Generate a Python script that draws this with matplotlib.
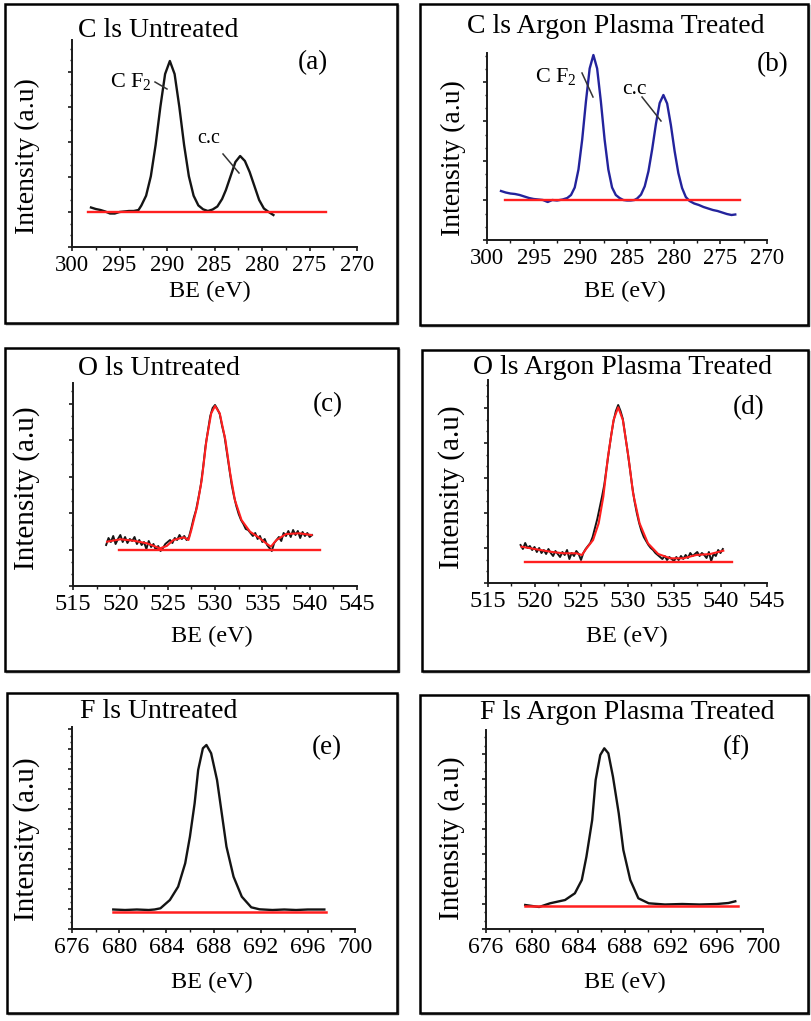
import numpy as np
import matplotlib
matplotlib.use('Agg')
import matplotlib.pyplot as plt
from matplotlib.ticker import MultipleLocator
from matplotlib.patches import Rectangle
from matplotlib.lines import Line2D

plt.rcParams['font.family'] = ['Liberation Serif', 'DejaVu Serif']
plt.rcParams['mathtext.fontset'] = 'custom'
plt.rcParams['mathtext.rm'] = 'Liberation Serif'
plt.rcParams['mathtext.it'] = 'Liberation Serif:italic'

# ---------------- data (BE in eV, intensity in arbitrary units) ----------------
# (a) C 1s untreated
a_x = [298.0, 297.5, 297.0, 296.5, 296.0, 295.5, 295.0, 294.5, 294.0, 293.5,
       293.0, 292.7, 292.2, 291.7, 291.2, 290.7, 290.2, 289.7, 289.2, 288.7,
       288.2, 287.7, 287.2, 286.7, 286.2, 285.7, 285.2, 284.7, 284.2, 283.8,
       283.3, 282.8, 282.3, 281.8, 281.3, 280.8, 280.3, 279.8, 279.3, 278.8]
a_y = [39.5, 38, 37, 35.5, 33.5, 33.5, 35, 35.5, 36, 36,
       37, 41.5, 51.3, 70.8, 102, 140, 173, 186, 173, 140,
       102, 70.8, 51.3, 41.6, 37.7, 36, 37.5, 40.5, 48, 57,
       71, 85, 91, 86, 75, 61, 47, 38.5, 35, 32]
a_base_x = [298.3, 273.3]
a_base_y = [35, 35]

# (b) C 1s argon plasma treated
b_x = [298.5, 298.0, 297.5, 297.0, 296.5, 296.0, 295.5, 295.0, 294.5, 294.0,
       293.5, 293.0, 292.5, 291.9, 291.4, 291.0, 290.6, 290.2, 289.8, 289.4,
       289.0, 288.6, 288.2, 287.8, 287.4, 287.0, 286.6, 286.2, 285.8, 285.4,
       285.0, 284.6, 284.2, 283.9, 283.5, 283.1, 282.7, 282.3, 281.9, 281.5,
       281.1, 280.7, 280.3, 279.9, 279.5, 279.1, 278.7, 278.3, 277.8, 277.3,
       276.8, 276.3, 275.8, 275.3, 274.8, 274.3, 273.8, 273.4]
b_y = [49, 47.5, 46.5, 46, 45, 43.5, 42, 41, 40.5, 40,
       38, 40, 39.5, 40.5, 42, 45, 52.5, 70.5, 100.5, 138.5,
       171.5, 185, 171.5, 138.5, 100.5, 70.5, 52.5, 45, 42, 40,
       39.5, 39.5, 40, 41.6, 45.4, 53.7, 68.8, 90.9, 116.1, 136.9,
       145, 136.5, 115, 89, 67, 52, 43, 39, 36.5, 35,
       33, 31.5, 30, 29, 27.5, 26, 25, 25.5]
b_base_x = [298.1, 272.9]
b_base_y = [39.5, 39.5]

# (c) O 1s untreated: raw data (start 518.5 eV, step 0.25 eV) and fit
c_raw_start, c_raw_step = 518.5, 0.25
c_raw_y = [41, 48, 44, 50, 42, 47, 51, 44,
           49, 43, 47, 45, 49, 42, 46, 41,
           44, 37, 45, 39, 42, 36, 40, 35,
           38, 42, 44, 46, 43, 48, 46, 51,
           47, 50, 46, 49, 58, 68, 76, 88,
           101, 119, 140, 155, 170, 178, 181, 177,
           172, 160, 150, 134, 118, 102, 90, 80,
           72, 66, 62, 57, 56, 53, 50, 53,
           47, 50, 44, 47, 41, 38, 35, 43,
           46, 49, 45, 53, 50, 55, 49, 56,
           51, 55, 48, 54, 50, 53, 49, 51]
c_fit_x = [518.6, 520.0, 521.4, 522.8, 524.2, 524.9, 525.6, 526.7, 527.2, 527.5,
           528.1, 528.6, 529.1, 529.6, 530.0, 530.5, 531.1, 531.6, 532.1, 532.8,
           533.7, 534.6, 535.4, 535.9, 536.5, 537.5, 538.9, 540.2]
c_fit_y = [44.3, 46.7, 45.3, 42.7, 37.7, 40, 46, 48.7, 46, 56,
           79, 106, 146, 172.7, 180, 172.7, 146, 113, 86, 66,
           54.3, 48.7, 42.7, 39.3, 46, 52, 52.7, 51]
c_base_x = [519.9, 541.1]
c_base_y = [36, 36]

# (d) O 1s argon plasma treated
d_raw_start, d_raw_step = 518.5, 0.25
d_raw_y = [38, 34, 40, 35, 37, 33, 36, 31,
           35, 30, 33, 29, 34, 30, 27, 32,
           29, 26, 31, 28, 33, 24, 30, 27,
           32, 29, 23, 30, 34, 37, 40, 46,
           55, 64, 75, 86, 98, 115, 132, 148,
           162, 172, 178, 172, 164, 148, 132, 115,
           97, 82, 70, 60, 52, 46, 42, 38,
           35, 33, 30, 28, 26, 24, 27, 23,
           26, 24, 22, 26, 23, 27, 24, 28,
           25, 30, 27, 29, 31, 27, 30, 28,
           25, 31, 22, 29, 27, 33, 30, 34]
d_fit_x = [518.6, 520.2, 521.7, 523.1, 524.5, 525.1, 525.6, 526.3, 526.9, 527.4,
           527.9, 528.5, 529.0, 529.5, 530.1, 530.6, 531.3, 532.2, 533.3, 534.6,
           536.0, 537.4, 538.9, 540.3]
d_fit_y = [36.3, 33.7, 31.3, 29.7, 29.7, 28, 34.7, 43, 59.7, 86.3,
           126.3, 163, 175.7, 163, 126.3, 89.7, 59.7, 39.7, 29, 24.7,
           24.7, 28, 29, 32.3]
d_base_x = [519.0, 541.2]
d_base_y = [21, 21]

# (e) F 1s untreated
e_x = [679.5, 680.5, 681.5, 682.5, 683.0, 683.5, 684.3, 685.0, 685.6, 686.0,
       686.4, 686.7, 687.1, 687.4, 687.8, 688.3, 688.7, 689.1, 689.7, 690.4,
       691.2, 691.9, 693.0, 694.0, 695.0, 696.0, 697.4]
e_y = [19.5, 19, 19.5, 19, 19.5, 20.7, 29, 42.3, 65.7, 92.3,
       125.7, 159, 180.7, 184, 175.7, 149, 115.7, 82.3, 52.3, 32.3,
       21.7, 19.7, 19, 19.5, 19, 19.5, 19.5]
e_base_x = [679.5, 697.5]
e_base_y = [17, 17]

# (f) F 1s argon plasma treated
f_x = [679.4, 680.6, 681.55, 682.85, 683.7, 684.3, 684.7, 685.2, 685.5, 685.9,
       686.25, 686.6, 687.0, 687.5, 687.9, 688.5, 689.2, 690.1, 691.5, 693.0,
       694.5, 696.0, 697.0, 697.6]
f_y = [24, 22, 25.7, 29, 35.7, 49, 72.3, 109, 149, 174,
       180.7, 175.7, 152.3, 115.7, 79, 49, 30.7, 25.7, 24.5, 25,
       24.5, 25, 26, 27.7]
f_base_x = [679.4, 697.8]
f_base_y = [23.3, 23.3]

c_ticks = [300, 295, 290, 285, 280, 275, 270]
o_ticks = [515, 520, 525, 530, 535, 540, 545]
f_ticks = [676, 680, 684, 688, 692, 696, 700]

titles = ['C ls Untreated', 'C ls Argon Plasma Treated',
          'O ls Untreated', 'O ls Argon Plasma Treated',
          'F ls Untreated', 'F ls Argon Plasma Treated']
letters = ['(a)', '(b)', '(c)', '(d)', '(e)', '(f)']
xlabel = 'BE (eV)'
ylabel = 'Intensity (a.u)'

# ---------------- layout (pixels) ----------------
W, H = 811, 1021
fig = plt.figure(figsize=(W / 100, H / 100), dpi=100)


def fx(px):
    return px / W


def fy(py):
    return 1 - py / H


specs = [
    dict(frame=(5, 4, 397, 323), ax=(72, 40, 357, 247), xlim=(300, 270), ticks=c_ticks,
         xminor=2.5, ytop=207, ymaj=35, tfs=16.5,
         title=(78, 37), letter=(298, 69), xl=(210, 297), yl=(27, 156), ylfs=20),
    dict(frame=(420, 4, 808, 325), ax=(487, 53, 767, 240), xlim=(300, 270), ticks=c_ticks,
         xminor=2.5, ytop=187, ymaj=39.5, tfs=16.5,
         title=(467, 33), letter=(757, 71), xl=(625, 297), yl=(453, 158), ylfs=20),
    dict(frame=(5, 348, 398, 671), ax=(73, 383, 357, 586), xlim=(515, 545), ticks=o_ticks,
         xminor=2.5, ytop=203, ymaj=36.5, tfs=17.5,
         title=(78, 375), letter=(313, 411), xl=(212, 642), yl=(27, 488), ylfs=21),
    dict(frame=(422, 350, 808, 671), ax=(488, 380, 767, 583), xlim=(515, 545), ticks=o_ticks,
         xminor=2.5, ytop=203, ymaj=35, tfs=17.5,
         title=(473, 374), letter=(733, 414), xl=(627, 642), yl=(452, 487), ylfs=21),
    dict(frame=(7, 693, 397, 1013), ax=(72, 727, 355, 929), xlim=(676, 700), ticks=f_ticks,
         xminor=2, ytop=202, ymaj=20, tfs=17,
         title=(80, 718), letter=(312, 754), xl=(212, 988), yl=(27, 839), ylfs=21),
    dict(frame=(420, 695, 808, 1013), ax=(486, 730, 763, 929), xlim=(676, 700), ticks=f_ticks,
         xminor=2, ytop=199, ymaj=25, tfs=17,
         title=(480, 719), letter=(723, 754), xl=(625, 988), yl=(452, 838), ylfs=21),
]

axes = []
for i, s in enumerate(specs):
    l, t, r, b = s['frame']
    fig.patches.append(Rectangle((fx(l), fy(b)), (r - l) / W, (b - t) / H,
                                 transform=fig.transFigure, fill=False,
                                 lw=1.8, ec='black', zorder=0))
    fig.add_artist(Line2D([fx(l + 1), fx(r + 1), fx(r + 1)], [fy(b + 1), fy(b + 1), fy(t + 1)],
                          transform=fig.transFigure, color='#222222', lw=1.0))
    l, t, r, b = s['ax']
    ax = fig.add_axes([fx(l), fy(b), (r - l) / W, (b - t) / H])
    ax.patch.set_alpha(0)
    ax.set_xlim(*s['xlim'])
    ax.set_ylim(0, s['ytop'])
    for side in ('top', 'right'):
        ax.spines[side].set_visible(False)
    for side in ('left', 'bottom'):
        ax.spines[side].set_linewidth(1.4)
        ax.spines[side].set_color('#1a1a1a')
    ax.set_xticks(s['ticks'])
    ax.set_xticklabels([str(v) for v in s['ticks']], fontsize=s['tfs'])
    ax.xaxis.set_minor_locator(MultipleLocator(s['xminor']))
    ax.yaxis.set_major_locator(MultipleLocator(s['ymaj']))
    ax.yaxis.set_minor_locator(MultipleLocator(s['ymaj'] / 3))
    ax.tick_params(which='major', direction='out', length=3, width=1.2, pad=2.5,
                   colors='#1a1a1a', labelcolor='black')
    ax.tick_params(which='minor', direction='out', length=1.8, width=1.0, colors='#1a1a1a')
    ax.tick_params(axis='y', labelleft=False)
    fig.text(fx(s['title'][0]), fy(s['title'][1]), titles[i], fontsize=20,
             ha='left', va='baseline')
    fig.text(fx(s['letter'][0]), fy(s['letter'][1]), letters[i], fontsize=19.5,
             ha='left', va='baseline')
    fig.text(fx(s['xl'][0]), fy(s['xl'][1]), xlabel, fontsize=17.5,
             ha='center', va='baseline')
    fig.text(fx(s['yl'][0]), fy(s['yl'][1]), ylabel, fontsize=s['ylfs'],
             ha='center', va='center', rotation=90)
    axes.append(ax)

red = '#ff1f1f'
black = '#141414'
blue = '#23239c'

axes[0].plot(a_x, a_y, color=black, lw=1.7)
axes[0].plot(a_base_x, a_base_y, color=red, lw=1.7)
axes[1].plot(b_x, b_y, color=blue, lw=1.7)
axes[1].plot(b_base_x, b_base_y, color=red, lw=1.7)
c_raw_x = c_raw_start + c_raw_step * np.arange(len(c_raw_y))
axes[2].plot(c_raw_x, c_raw_y, color=black, lw=1.4)
axes[2].plot(c_fit_x, c_fit_y, color=red, lw=1.5)
axes[2].plot(c_base_x, c_base_y, color=red, lw=1.7)
d_raw_x = d_raw_start + d_raw_step * np.arange(len(d_raw_y))
axes[3].plot(d_raw_x, d_raw_y, color=black, lw=1.4)
axes[3].plot(d_fit_x, d_fit_y, color=red, lw=1.5)
axes[3].plot(d_base_x, d_base_y, color=red, lw=1.7)
axes[4].plot(e_x, e_y, color=black, lw=1.7)
axes[4].plot(e_base_x, e_base_y, color=red, lw=1.8)
axes[5].plot(f_x, f_y, color=black, lw=1.7)
axes[5].plot(f_base_x, f_base_y, color=red, lw=1.8)

# peak annotations
fig.text(fx(110), fy(87), r'C F$_\mathrm{2}$', fontsize=16, ha='left', va='baseline')
fig.text(fx(197), fy(143), 'c.c', fontsize=14.5, ha='left', va='baseline')
fig.text(fx(535), fy(82), r'C F$_\mathrm{2}$', fontsize=16, ha='left', va='baseline')
fig.text(fx(622), fy(94), 'c.c', fontsize=15.5, ha='left', va='baseline')
for (x1, y1, x2, y2) in [(155, 82, 167, 89), (223, 154, 239, 173),
                         (582, 73, 593, 97), (642, 97, 661, 121)]:
    fig.add_artist(Line2D([fx(x1), fx(x2)], [fy(y1), fy(y2)],
                          transform=fig.transFigure, color='#333333', lw=1.1))

fig.savefig('out.png', dpi=100, facecolor='white')
